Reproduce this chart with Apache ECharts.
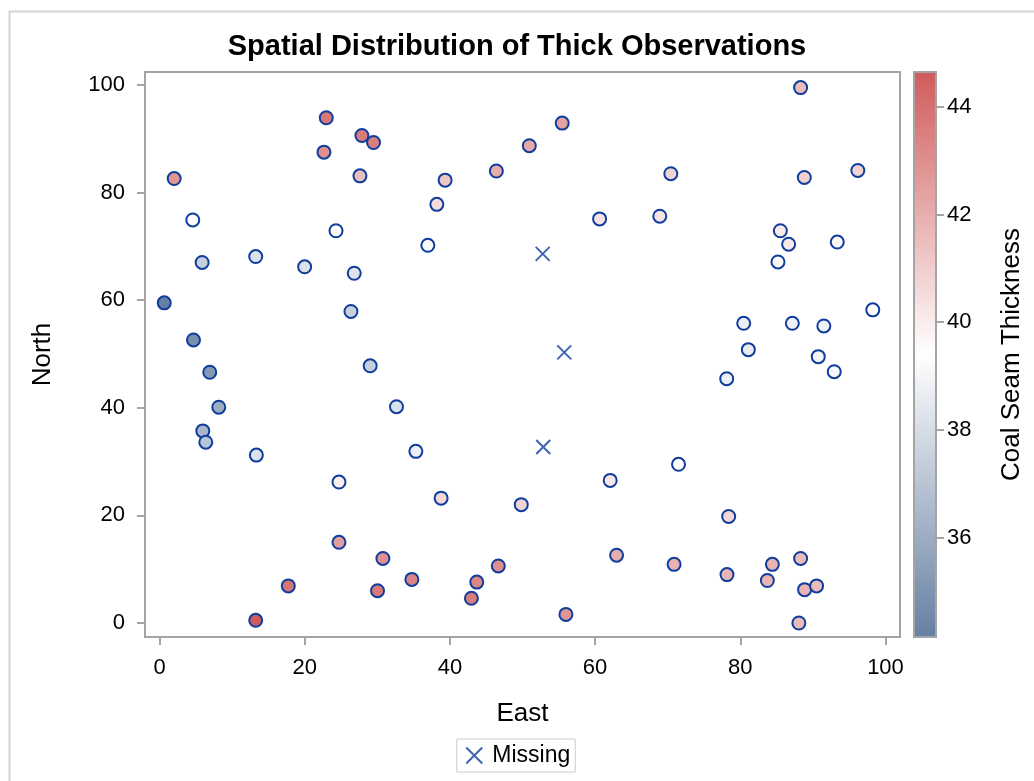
<!DOCTYPE html>
<html>
<head>
<meta charset="utf-8">
<title>Spatial Distribution of Thick Observations</title>
<script src="https://cdn.jsdelivr.net/npm/echarts@6/dist/echarts.min.js"></script>
<style>
    html, body { margin: 0; padding: 0; background: #ffffff; }
    #main { width: 1034px; height: 781px; }
</style>
</head>
<body>
<div id="main"></div>
<script>
    // observed points: east, north, thickness
    var east = [
        22.97, 27.88, 29.48, 22.65, 2.02, 27.61, 39.34, 38.20, 4.58, 24.31,
        36.96, 13.25, 5.87, 19.99, 26.82, 0.65, 26.37, 4.68, 6.92, 29.02,
        8.16, 32.64, 5.96, 6.37, 35.31, 13.34, 24.72, 38.79, 24.72, 30.77,
        17.74, 34.76, 30.03, 13.25, 71.49, 62.08, 49.83, 78.40, 62.96, 46.67,
        43.70, 42.96, 70.88, 78.17, 84.42, 88.31, 83.73, 88.86, 90.51, 55.98,
        88.07, 88.31, 55.47, 50.94, 46.40, 70.43, 88.82, 96.19, 60.62, 68.91,
        85.52, 86.66, 93.36, 85.19, 98.25, 80.47, 87.17, 91.51, 81.11, 90.74,
        92.94, 78.13
    ];
    var north = [
        93.9, 90.6, 89.3, 87.5, 82.6, 83.1, 82.3, 77.8, 74.9, 72.9,
        70.2, 68.1, 67.0, 66.2, 65.0, 59.5, 57.9, 52.6, 46.6, 47.8,
        40.1, 40.2, 35.7, 33.6, 31.9, 31.2, 26.2, 23.2, 15.0, 12.0,
        6.9, 8.1, 6.0, 0.5, 29.5, 26.5, 22.0, 19.8, 12.6, 10.6,
        7.6, 4.6, 10.9, 9.0, 10.9, 12.0, 7.9, 6.2, 6.9, 1.6,
        0.0, 99.5, 92.9, 88.7, 84.0, 83.5, 82.8, 84.1, 75.1, 75.6,
        72.9, 70.4, 70.8, 67.1, 58.2, 55.7, 55.7, 55.2, 50.8, 49.5,
        46.7, 45.4
    ];
    var thick = [
        43.8, 43.6, 43.5, 43.0, 42.8, 41.5, 41.2, 40.6, 39.5, 39.5,
        39.2, 38.2, 37.4, 38.2, 38.3, 34.15, 37.5, 34.8, 35.2, 37.4,
        36.0, 38.2, 36.4, 37.0, 38.8, 38.2, 39.9, 40.7, 42.5, 43.0,
        43.8, 43.4, 43.7, 44.65, 39.4, 40.2, 40.8, 40.7, 42.0, 43.0,
        43.3, 43.6, 41.9, 41.8, 41.8, 41.6, 41.8, 41.8, 41.6, 42.8,
        41.6, 41.5, 42.4, 42.2, 42.0, 40.8, 40.9, 40.8, 40.3, 40.3,
        40.1, 40.1, 39.6, 39.5, 39.4, 38.7, 38.9, 38.9, 38.6, 39.0,
        39.1, 38.7
    ];
    // observations with missing thickness
    var missEast = [52.78, 55.75, 52.86];
    var missNorth = [68.6, 50.3, 32.7];

    var axisTicks = [0, 20, 40, 60, 80, 100];
    var barTicks = [36, 38, 40, 42, 44];

    var thickMin = Math.min.apply(null, thick);
    var thickMax = Math.max.apply(null, thick);

    var obsData = [];
    for (var i = 0; i < east.length; ++i) {
        obsData.push([east[i], north[i], thick[i]]);
    }
    var missData = [];
    for (var i = 0; i < missEast.length; ++i) {
        missData.push([missEast[i], missNorth[i]]);
    }

    var FONT = 'Liberation Sans, Arial, sans-serif';
    var AXIS_GRAY = '#a4a4a4';
    var MARK_BLUE = '#0f3d9e';
    var RAMP = ['#667FA2', '#ffffff', '#D05B5B'];
    var X_PATH = 'path://M0,0L10,10M10,0L0,10';

    var tickStyle = { show: true, inside: false, length: 8, lineStyle: { color: AXIS_GRAY, width: 2 } };
    var labelStyle = { fontFamily: FONT, fontSize: 22, color: '#000000' };
    var nameStyle = { fontFamily: FONT, fontSize: 26, color: '#000000' };

    option = {
        backgroundColor: '#ffffff',
        textStyle: { fontFamily: FONT },
        title: {
            text: 'Spatial Distribution of Thick Observations',
            left: 'center',
            top: 27,
            textStyle: { fontFamily: FONT, fontSize: 29, fontWeight: 'bold', color: '#000000' }
        },
        graphic: [{
            type: 'rect',
            shape: { x: 9.5, y: 11.5, width: 1100, height: 900 },
            style: { fill: 'none', stroke: '#d4d4d4', lineWidth: 2 },
            silent: true
        }],
        legend: {
            data: [{ name: 'Missing', icon: X_PATH }],
            bottom: 9,
            left: 'center',
            itemWidth: 16,
            itemHeight: 16,
            itemGap: 8,
            padding: [5, 5, 5, 7],
            borderColor: '#cccccc',
            borderWidth: 1,
            textStyle: { fontFamily: FONT, fontSize: 23, color: '#000000', padding: [0, 0, 0, 5] }
        },
        visualMap: {
            show: false,
            type: 'continuous',
            seriesIndex: 0,
            dimension: 2,
            min: thickMin,
            max: thickMax,
            inRange: { color: RAMP }
        },
        grid: [{
            left: 145, right: 134, top: 72, bottom: 144,
            show: true,
            borderColor: AXIS_GRAY,
            borderWidth: 2,
            backgroundColor: '#ffffff'
        }, {
            left: 914, width: 22, top: 72, bottom: 144,
            show: true,
            borderColor: AXIS_GRAY,
            borderWidth: 2,
            backgroundColor: {
                type: 'linear', x: 0, y: 0, x2: 0, y2: 1,
                colorStops: [
                    { offset: 0, color: RAMP[2] },
                    { offset: 0.5, color: RAMP[1] },
                    { offset: 1, color: RAMP[0] }
                ]
            }
        }],
        xAxis: [{
            gridIndex: 0,
            type: 'value',
            min: -2, max: 102,
            name: 'East',
            nameLocation: 'middle',
            nameGap: 64,
            nameTextStyle: nameStyle,
            axisLine: { show: false, onZero: false },
            axisTick: Object.assign({ customValues: axisTicks }, tickStyle),
            axisLabel: Object.assign({ margin: 20, customValues: axisTicks }, labelStyle),
            splitLine: { show: false }
        }, {
            gridIndex: 1,
            type: 'value',
            show: false,
            min: 0, max: 1
        }],
        yAxis: [{
            gridIndex: 0,
            type: 'value',
            min: -2.6, max: 102.4,
            name: 'North',
            nameLocation: 'middle',
            nameGap: 89,
            nameRotate: 90,
            nameTextStyle: nameStyle,
            axisLine: { show: false, onZero: false },
            axisTick: Object.assign({ customValues: axisTicks }, tickStyle),
            axisLabel: Object.assign({ margin: 20, customValues: axisTicks }, labelStyle),
            splitLine: { show: false }
        }, {
            gridIndex: 1,
            type: 'value',
            position: 'right',
            min: thickMin,
            max: thickMax,
            name: 'Coal Seam Thickness',
            nameLocation: 'middle',
            nameGap: 63,
            nameRotate: 90,
            nameTextStyle: nameStyle,
            axisLine: { show: false, onZero: false },
            axisTick: Object.assign({ customValues: barTicks }, tickStyle),
            axisLabel: Object.assign({ margin: 11, customValues: barTicks }, labelStyle),
            splitLine: { show: false }
        }],
        series: [{
            name: 'Thick',
            type: 'scatter',
            xAxisIndex: 0,
            yAxisIndex: 0,
            symbol: 'circle',
            symbolSize: 13,
            itemStyle: { borderColor: MARK_BLUE, borderWidth: 2, opacity: 1 },
            data: obsData
        }, {
            name: 'Missing',
            type: 'scatter',
            xAxisIndex: 0,
            yAxisIndex: 0,
            symbol: X_PATH,
            symbolSize: 14,
            itemStyle: { color: 'none', borderColor: MARK_BLUE, borderWidth: 2 },
            data: missData
        }]
    };

    var myChart = echarts.init(document.getElementById('main'), null, { renderer: 'canvas' });
    myChart.setOption(option);
</script>
</body>
</html>
